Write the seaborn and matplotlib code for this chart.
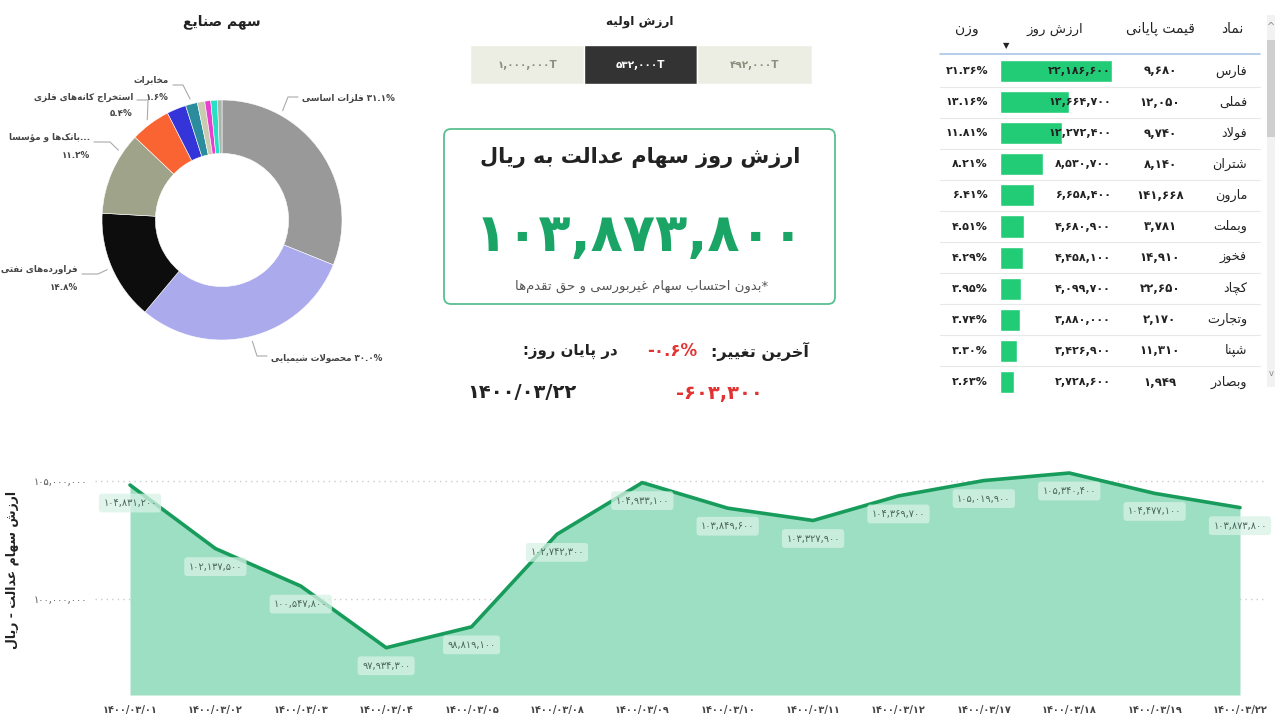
import numpy as np
import pandas as pd
import matplotlib.pyplot as plt
from matplotlib.patches import Rectangle, FancyBboxPatch
import seaborn as sns

# ---------------- data ----------------
industry_names = ['فلزات اساسی', 'محصولات شیمیایی', 'فراورده‌های نفتی', 'بانک‌ها و مؤسسا',
                  'استخراج کانه‌های فلزی', 'خودرو', 'مخابرات', 'سیمان', 'بیمه', 'حمل و نقل', 'سایر']
industry_share = [31.1, 30.0, 14.8, 11.2, 5.4, 2.6, 1.6, 1.0, 0.8, 0.9, 0.6]
industry_colors = ['#999999', '#aaaaec', '#0d0d0d', '#9fa38a', '#fa6433', '#3434d8',
                   '#2a8c9c', '#c9cbb0', '#e83fd0', '#27e0c4', '#a7b5aa']

initial_values = ['1,000,000T', '532,000T', '492,000T']

symbols = ['فارس', 'فملی', 'فولاد', 'شتران', 'مارون', 'وبملت', 'فخوز', 'کچاد', 'وتجارت', 'شپنا', 'وبصادر']
close_prices = [9680, 12050, 9740, 8140, 141668, 3781, 14910, 22650, 2170, 11310, 1949]
day_values = [22186600, 13664700, 12272400, 8530700, 6658400, 4680900, 4458100, 4099700, 3880000, 3426900, 2728600]
weights = [21.36, 13.16, 11.81, 8.21, 6.41, 4.51, 4.29, 3.95, 3.74, 3.30, 2.63]

dates = ['1400/03/01', '1400/03/02', '1400/03/03', '1400/03/04', '1400/03/05', '1400/03/08', '1400/03/09',
         '1400/03/10', '1400/03/11', '1400/03/12', '1400/03/17', '1400/03/18', '1400/03/19', '1400/03/22']
portfolio_value = [104831200, 102137500, 100547800, 97934300, 98819100, 102742300, 104933100,
                   103849600, 103327900, 104369700, 105019900, 105340400, 104477100, 103873800]

today_value = 103873800
last_change = -603300
last_change_pct = -0.6
last_date = '1400/03/22'


# ---------------- persian text helpers ----------------
DUAL = {'ئ': 0xFE89, 'ب': 0xFE8F, 'ت': 0xFE95, 'ث': 0xFE99, 'ج': 0xFE9D, 'ح': 0xFEA1, 'خ': 0xFEA5,
        'س': 0xFEB1, 'ش': 0xFEB5, 'ص': 0xFEB9, 'ض': 0xFEBD, 'ط': 0xFEC1, 'ظ': 0xFEC5, 'ع': 0xFEC9,
        'غ': 0xFECD, 'ف': 0xFED1, 'ق': 0xFED5, 'ك': 0xFED9, 'ل': 0xFEDD, 'م': 0xFEE1, 'ن': 0xFEE5,
        'ه': 0xFEE9, 'ي': 0xFEF1, 'ی': 0xFBFC, 'ک': 0xFB8E, 'گ': 0xFB92, 'پ': 0xFB56, 'چ': 0xFB7A}
RIGHT = {'آ': 0xFE81, 'أ': 0xFE83, 'ؤ': 0xFE85, 'إ': 0xFE87, 'ا': 0xFE8D, 'ة': 0xFE93, 'د': 0xFEA9,
         'ذ': 0xFEAB, 'ر': 0xFEAD, 'ز': 0xFEAF, 'و': 0xFEED, 'ى': 0xFEEF, 'ژ': 0xFB8A}
LAMALEF = {'آ': 0xFEF5, 'أ': 0xFEF7, 'إ': 0xFEF9, 'ا': 0xFEFB}


def shape(s):
    toks = []
    i = 0
    while i < len(s):
        if s[i] == 'ل' and i + 1 < len(s) and s[i + 1] in LAMALEF:
            toks.append(('LA', s[i + 1]))
            i += 2
        else:
            toks.append(s[i])
            i += 1

    def kind(t):
        if isinstance(t, tuple) or t in RIGHT:
            return 'R'
        if t in DUAL:
            return 'D'
        return None

    out = []
    for j, t in enumerate(toks):
        k = kind(t)
        if k is None:
            out.append('' if t == '\u200c' else t)
            continue
        jp = j > 0 and kind(toks[j - 1]) == 'D'
        jn = k == 'D' and j + 1 < len(toks) and kind(toks[j + 1]) is not None
        if isinstance(t, tuple):
            out.append(chr(LAMALEF[t[1]] + (1 if jp else 0)))
        elif k == 'R':
            out.append(chr(RIGHT[t] + (1 if jp else 0)))
        else:
            off = 3 if (jp and jn) else 1 if jp else 2 if jn else 0
            out.append(chr(DUAL[t] + off))
    return ''.join(out)


def fa(s):
    return shape(s)[::-1]


def pdig(s):
    return str(s).translate(str.maketrans('0123456789', '۰۱۲۳۴۵۶۷۸۹'))


def money(v):
    return pdig(f"{v:,}")


# ---------------- figure ----------------
sns.set_theme(style='white')
plt.rcParams['font.family'] = ['DejaVu Sans']

W, H = 1280, 727
fig = plt.figure(figsize=(12.8, 7.27), dpi=100)


def px_axes(x0, y0, x1, y1, **kw):
    return fig.add_axes([x0 / W, 1 - y1 / H, (x1 - x0) / W, (y1 - y0) / H], **kw)


# overlay for texts and decorations (pixel coordinates)
ov = fig.add_axes([0, 0, 1, 1], zorder=5)
ov.set_xlim(0, W)
ov.set_ylim(H, 0)
ov.axis('off')
ov.patch.set_alpha(0)

DARK = '#222222'

# ---------------- donut ----------------
cx, cy, R = 222, 220, 125
axp = px_axes(cx - 150, cy - 150, cx + 150, cy + 150)
axp.set_xlim(-1.2, 1.2)
axp.set_ylim(-1.2, 1.2)
axp.axis('off')
wedges, _ = axp.pie(industry_share, colors=industry_colors, startangle=90, counterclock=False,
                    radius=1.0, wedgeprops=dict(width=0.445, edgecolor='white', linewidth=0.4))

ov.text(cx, 22, fa('سهم صنایع'), ha='center', va='center', fontsize=10, weight='bold', color=DARK)


def pct(v):
    return pdig(f"{v:.1f}") + '%'


# label layout: wedge index, anchor angle override, elbow, end, text lines
pie_labels = [
    (0, 61, (288, 97), (298, 97), 'left', [(fa(industry_names[0]) + ' ' + pct(industry_share[0]), 1)]),
    (1, None, (257, 356), (267, 356), 'left', [(fa(industry_names[1]) + ' ' + pct(industry_share[1]), 2)]),
    (2, None, (98, 274), (82, 274), 'right', [(fa(industry_names[2]), -5), (pct(industry_share[2]), 14)]),
    (3, 146, (110, 142), (94, 142), 'right', [(fa(industry_names[3]) + '...', -5), (pct(industry_share[3]), 13)]),
    (4, None, (148, 100), (137, 100), 'right', [(fa(industry_names[4]), -3), (pct(industry_share[4]), 13)]),
    (6, None, (183, 85), (173, 85), 'right', [(fa(industry_names[6]), -5), (pct(industry_share[6]), 12)]),
]
for idx, ang, elbow, end, ha, lines in pie_labels:
    w = wedges[idx]
    a = np.deg2rad(ang if ang is not None else (w.theta1 + w.theta2) / 2)
    sx, sy = cx + R * np.cos(a), cy - R * np.sin(a)
    ov.plot([sx, elbow[0], end[0]], [sy, elbow[1], end[1]], color='#aaaaaa', lw=0.8)
    tx = end[0] + (4 if ha == 'left' else -4)
    for txt, dy in lines:
        ov.text(tx, end[1] + dy, txt, ha=ha, va='center', fontsize=6.3, weight='bold', color='#444444')

# ---------------- initial value buttons ----------------
ov.text(640, 22, fa('ارزش اولیه'), ha='center', va='center', fontsize=8.7, weight='bold', color=DARK)
btn_x = [470, 584, 697, 812]
for i, lab in enumerate(initial_values):
    sel = i == 1
    ov.add_patch(Rectangle((btn_x[i], 45), btn_x[i + 1] - btn_x[i], 39,
                           facecolor='#333333' if sel else '#edeee3', edgecolor='white', lw=1))
    ov.text((btn_x[i] + btn_x[i + 1]) / 2, 64.5, pdig(lab), ha='center', va='center', fontsize=7.5,
            weight='bold', color='white' if sel else '#8b8d7d')

# ---------------- value card ----------------
ov.add_patch(FancyBboxPatch((444, 129), 391, 175, boxstyle='round,pad=0,rounding_size=7',
                            facecolor='white', edgecolor='#5cbf90', lw=1.3))
ov.text(640, 158, fa('ارزش روز سهام عدالت به ریال'), ha='center', va='center', fontsize=15,
        weight='bold', color=DARK)
ov.text(640, 236, money(today_value), ha='center', va='center', fontsize=38, weight='bold',
        color='#1aa566')
ov.text(642, 286, fa('*بدون احتساب سهام غیربورسی و حق تقدم‌ها'), ha='center', va='center',
        fontsize=9.5, color='#555555')

ov.text(809, 351, fa('آخرین تغییر:'), ha='right', va='center', fontsize=11.5, weight='bold', color=DARK)
ov.text(697, 351, pdig(f"{last_change_pct:.1f}") + '%', ha='right', va='center', fontsize=12,
        weight='bold', color='#e23333')
ov.text(618, 351, fa('در پایان روز:'), ha='right', va='center', fontsize=10.8, weight='bold', color=DARK)
ov.text(522, 393, pdig(last_date), ha='center', va='center', fontsize=14, weight='bold', color=DARK)
ov.text(719, 393, money(last_change), ha='center', va='center', fontsize=14, weight='bold',
        color='#e23333')

# ---------------- table ----------------
row_y0, row_h = 71, 31.1
axt = px_axes(1000, row_y0 - row_h / 2, 1112, row_y0 + row_h * 10.5)
tab = pd.DataFrame({'symbol': symbols, 'value': day_values})
sns.barplot(data=tab, x='value', y='symbol', orient='h', color='#22cc77', width=0.71,
            saturation=1, ax=axt)
axt.set_xlim(0, max(day_values))
axt.set_ylim(len(symbols) - 0.5, -0.5)
axt.axis('off')

hdr_y = 29
ov.text(1232, hdr_y, fa('نماد'), ha='center', va='center', fontsize=10, color=DARK)
ov.text(1160, hdr_y, fa('قیمت پایانی'), ha='center', va='center', fontsize=10, color=DARK)
ov.text(1055, hdr_y, fa('ارزش روز'), ha='center', va='center', fontsize=9.5, color=DARK)
ov.text(967, hdr_y, fa('وزن'), ha='center', va='center', fontsize=10, color=DARK)
ov.text(1006, 46, '▼', ha='center', va='center', fontsize=6, color=DARK)
ov.plot([940, 1260], [54, 54], color='#a9c6e4', lw=1.2)
for i in range(len(symbols)):
    y = row_y0 + i * row_h
    ov.text(1247, y, fa(symbols[i]), ha='right', va='center', fontsize=9.2, color=DARK)
    ov.text(1160, y, money(close_prices[i]), ha='center', va='center', fontsize=8.5, weight='bold', color=DARK)
    ov.text(1111, y, money(day_values[i]), ha='right', va='center', fontsize=8, weight='bold', color=DARK)
    ov.text(988, y, pdig(f"{weights[i]:.2f}") + '%', ha='right', va='center', fontsize=8,
            weight='bold', color=DARK)
    if i < len(symbols) - 1:
        ov.plot([940, 1260], [y + row_h / 2, y + row_h / 2], color='#e8e8e8', lw=0.8)
# scrollbar
ov.add_patch(Rectangle((1267, 15), 8, 372, facecolor='#f2f2f2', edgecolor='none'))
ov.add_patch(Rectangle((1267, 40), 8, 97, facecolor='#cfcfcf', edgecolor='none'))
ov.text(1271, 27, '^', ha='center', va='center', fontsize=7, color='#888888')
ov.text(1271, 374, 'v', ha='center', va='center', fontsize=6, color='#888888')

# ---------------- line chart ----------------
axl = px_axes(95, 469, 1265, 695)
x = np.arange(len(dates))
ybot = 95.93e6
axl.fill_between(x, portfolio_value, ybot, color='#9ddfc3', lw=0)
sns.lineplot(x=x, y=portfolio_value, color='#189c5c', lw=2.6, ax=axl)
axl.set_xlim(-(130 - 95) / 85.38, len(dates) - 1 + 25 / 85.38)
axl.set_ylim(ybot, 105.51e6)
axl.set_yticks([100e6, 105e6])
axl.set_yticklabels([money(100000000), money(105000000)], fontsize=7, color='#555555')
axl.set_xticks(x)
axl.set_xticklabels([pdig(d) for d in dates], fontsize=7, color='#444444', weight='bold')
axl.tick_params(axis='both', length=0)
axl.tick_params(axis='x', pad=7)
axl.tick_params(axis='y', pad=6)
axl.grid(axis='y', linestyle=(0, (1, 3)), color='#cccccc', lw=1)
axl.grid(axis='x', visible=False)
for s in axl.spines.values():
    s.set_visible(False)
axl.patch.set_alpha(0)
for i, v in enumerate(portfolio_value):
    axl.annotate(money(v), (i, v), xytext=(0, -13), textcoords='offset points', ha='center',
                 va='center', fontsize=7, color='#4a6658',
                 bbox=dict(boxstyle='round,pad=0.45,rounding_size=0.3', fc='#d8f2e6', ec='none', alpha=0.75))
ov.text(12, 570, fa('ارزش سهام عدالت - ریال'), ha='center', va='center', rotation=90,
        fontsize=9, weight='bold', color=DARK)

fig.savefig('out.png', dpi=100)
